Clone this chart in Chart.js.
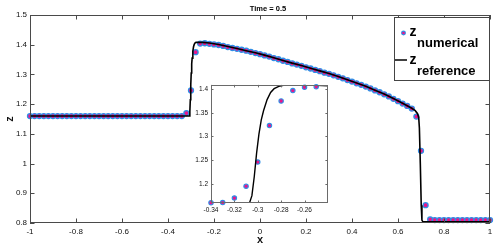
<!DOCTYPE html>
<html>
<head>
<meta charset="utf-8">
<script src="https://cdn.jsdelivr.net/npm/chart.js@4.4.1/dist/chart.umd.min.js"></script>
<style>
    html, body { margin: 0; padding: 0; background: #fff; }
    #wrap { position: relative; width: 498px; height: 248px; }
    #mainBox { position: absolute; left: 0; top: 0; width: 498px; height: 248px; }
    #insetBox { position: absolute; left: 185px; top: 78px; width: 148px; height: 139px; }
</style>
</head>
<body>
<div id="wrap">
    <div id="mainBox"><canvas id="mainChart"></canvas></div>
    <div id="insetBox"><canvas id="insetChart"></canvas></div>
</div>
<script>
// ===== DATI =====

const mainX = [-1, -0.98, -0.96, -0.94, -0.92, -0.9, -0.88, -0.86, -0.84, -0.82,
    -0.8, -0.78, -0.76, -0.74, -0.72, -0.7, -0.68, -0.66, -0.64, -0.62,
    -0.6, -0.58, -0.56, -0.54, -0.52, -0.5, -0.48, -0.46, -0.44, -0.42,
    -0.4, -0.38, -0.36, -0.34, -0.32, -0.3, -0.28, -0.26, -0.24, -0.22,
    -0.2, -0.18, -0.16, -0.14, -0.12, -0.1, -0.08, -0.06, -0.04, -0.02,
    0, 0.02, 0.04, 0.06, 0.08, 0.1, 0.12, 0.14, 0.16, 0.18,
    0.2, 0.22, 0.24, 0.26, 0.28, 0.3, 0.32, 0.34, 0.36, 0.38,
    0.4, 0.42, 0.44, 0.46, 0.48, 0.5, 0.52, 0.54, 0.56, 0.58,
    0.6, 0.62, 0.64, 0.66, 0.68, 0.7, 0.72, 0.74, 0.76, 0.78,
    0.8, 0.82, 0.84, 0.86, 0.88, 0.9, 0.92, 0.94, 0.96, 0.98, 1];

const mainZ = [1.16, 1.16, 1.16, 1.16, 1.16, 1.16, 1.16, 1.16, 1.16, 1.16,
    1.16, 1.16, 1.16, 1.16, 1.16, 1.16, 1.16, 1.16, 1.16, 1.16,
    1.16, 1.16, 1.16, 1.16, 1.16, 1.16, 1.16, 1.16, 1.16, 1.16,
    1.16, 1.16, 1.16, 1.16, 1.17, 1.246, 1.375, 1.404, 1.405, 1.403,
    1.401, 1.399, 1.396, 1.392, 1.389, 1.386, 1.383, 1.38, 1.376, 1.372,
    1.368, 1.364, 1.36, 1.355, 1.351, 1.346, 1.342, 1.337, 1.333, 1.329,
    1.324, 1.32, 1.315, 1.311, 1.306, 1.302, 1.297, 1.292, 1.287, 1.281,
    1.276, 1.27, 1.265, 1.259, 1.253, 1.246, 1.24, 1.233, 1.226, 1.218,
    1.21, 1.202, 1.194, 1.185, 1.158, 1.043, 0.86, 0.812, 0.81, 0.81,
    0.81, 0.81, 0.81, 0.81, 0.81, 0.81, 0.81, 0.81, 0.81, 0.81, 0.81];

// Soluzione di riferimento (linea nera)
const refX = [-1, -0.307, -0.305, -0.303, -0.301, -0.299, -0.297, -0.295, -0.292, -0.289,
    -0.286, -0.282, -0.278, -0.25, -0.22, -0.18, -0.14, -0.1, -0.06, -0.02,
    0.02, 0.06, 0.1, 0.14, 0.18, 0.22, 0.26, 0.3, 0.34, 0.38,
    0.42, 0.46, 0.5, 0.54, 0.58, 0.62, 0.66, 0.675, 0.685, 0.69,
    0.693, 0.697, 0.701, 0.704, 0.708, 1];
const refZ = [1.16, 1.16, 1.175, 1.215, 1.265, 1.305, 1.335, 1.355, 1.378, 1.393,
    1.401, 1.406, 1.408, 1.408, 1.406, 1.401, 1.394, 1.387, 1.38, 1.373,
    1.365, 1.356, 1.347, 1.338, 1.33, 1.321, 1.312, 1.303, 1.293, 1.282,
    1.271, 1.26, 1.247, 1.234, 1.219, 1.203, 1.186, 1.178, 1.168, 1.155,
    1.12, 1.0, 0.86, 0.81, 0.804, 0.804];

// Zoom (riquadro interno)
const insetX = [-0.34, -0.33, -0.32, -0.31, -0.3, -0.29, -0.28, -0.27, -0.26, -0.25];
const insetZ = [1.16, 1.1605, 1.17, 1.195, 1.246, 1.323, 1.375, 1.397, 1.404, 1.405];

const mainXTicks = [-1, -0.8, -0.6, -0.4, -0.2, 0, 0.2, 0.4, 0.6, 0.8, 1];
const mainYTicks = [0.8, 0.9, 1, 1.1, 1.2, 1.3, 1.4, 1.5];
const insetXTicks = [-0.34, -0.32, -0.3, -0.28, -0.26];
const insetYTicks = [1.2, 1.25, 1.3, 1.35, 1.4];

const titleText = 'Time = 0.5';
const legendNames = ['numerical', 'reference'];

// ===== STILE =====

const FONT = '"Liberation Sans", Arial, Helvetica, sans-serif';
const AXIS_COLOR = '#4a4a4a';
const EDGE_BLUE = '#2f8fe6';
const FACE_MAGENTA = '#e8168a';

Chart.defaults.font.family = FONT;
Chart.defaults.color = '#111';
Chart.defaults.animation = false;

const toPts = (xs, ys) => xs.map((x, i) => ({ x: x, y: ys[i] }));
const fmt = v => String(+Number(v).toFixed(3));

// Box con tacche verso l'interno (stile MATLAB)
const boxTicks = {
    id: 'boxTicks',
    beforeDatasetsDraw(chart, args, opts) {
        if (!opts.fill) return;
        const a = chart.chartArea;
        chart.ctx.save();
        chart.ctx.fillStyle = opts.fill;
        chart.ctx.fillRect(a.left, a.top, a.width, a.height);
        chart.ctx.restore();
    },
    afterDatasetsDraw(chart, args, opts) {
        const { ctx, chartArea: a, scales: { x, y } } = chart;
        const len = opts.len || 4;
        ctx.save();
        ctx.strokeStyle = opts.color || AXIS_COLOR;
        ctx.lineWidth = 1;
        ctx.strokeRect(Math.round(a.left) + 0.5, Math.round(a.top) + 0.5,
            Math.round(a.width) - 1, Math.round(a.height) - 1);
        ctx.beginPath();
        x.ticks.forEach(t => {
            const px = Math.round(x.getPixelForValue(t.value)) + 0.5;
            ctx.moveTo(px, a.bottom);
            ctx.lineTo(px, a.bottom - len);
            ctx.moveTo(px, a.top);
            ctx.lineTo(px, a.top + len);
        });
        y.ticks.forEach(t => {
            const py = Math.round(y.getPixelForValue(t.value)) + 0.5;
            ctx.moveTo(a.left, py);
            ctx.lineTo(a.left + len, py);
            ctx.moveTo(a.right, py);
            ctx.lineTo(a.right - len, py);
        });
        ctx.stroke();
        ctx.restore();
    }
};

// Titolo e legenda
const decorations = {
    id: 'decorations',
    afterDraw(chart) {
        const { ctx } = chart;
        ctx.save();

        // Titolo
        ctx.fillStyle = '#000';
        ctx.font = 'bold 7.5px ' + FONT;
        ctx.textAlign = 'center';
        ctx.textBaseline = 'alphabetic';
        ctx.fillText(titleText, 268, 11);

        // Legenda
        const bx = 394.5, by = 17.5, bw = 95, bh = 63;
        ctx.fillStyle = '#fff';
        ctx.fillRect(bx, by, bw, bh);
        ctx.strokeStyle = '#444';
        ctx.lineWidth = 1;
        ctx.strokeRect(bx, by, bw, bh);

        // marker punto
        ctx.beginPath();
        ctx.arc(403.5, 33, 1.9, 0, Math.PI * 2);
        ctx.fillStyle = FACE_MAGENTA;
        ctx.fill();
        ctx.strokeStyle = EDGE_BLUE;
        ctx.lineWidth = 1.1;
        ctx.stroke();

        // marker linea
        ctx.beginPath();
        ctx.moveTo(395, 60);
        ctx.lineTo(407, 60);
        ctx.strokeStyle = '#000';
        ctx.lineWidth = 1.5;
        ctx.stroke();

        ctx.fillStyle = '#000';
        ctx.textAlign = 'left';
        ctx.font = 'bold 14px ' + FONT;
        ctx.fillText('z', 409.5, 36);
        ctx.fillText('z', 409.5, 64);
        ctx.font = 'bold 13px ' + FONT;
        ctx.fillText(legendNames[0], 417, 46.5);
        ctx.fillText(legendNames[1], 417, 75);

        ctx.restore();
    }
};

// ===== GRAFICO PRINCIPALE =====

new Chart(document.getElementById('mainChart'), {
    type: 'scatter',
    data: {
        datasets: [
            {
                label: 'z reference',
                type: 'line',
                data: toPts(refX, refZ),
                borderColor: '#000',
                borderWidth: 1.6,
                pointRadius: 0,
                tension: 0,
                order: 0
            },
            {
                label: 'z numerical',
                data: toPts(mainX, mainZ),
                backgroundColor: FACE_MAGENTA,
                borderColor: EDGE_BLUE,
                borderWidth: 1.3,
                pointRadius: 2.5,
                clip: false,
                order: 1
            }
        ]
    },
    options: {
        responsive: true,
        maintainAspectRatio: false,
        layout: { padding: { left: 0, right: 8, top: 15, bottom: 0 } },
        plugins: {
            legend: { display: false },
            tooltip: { enabled: false },
            boxTicks: { len: 4.5, color: AXIS_COLOR }
        },
        scales: {
            x: {
                type: 'linear',
                min: -1,
                max: 1,
                grid: { display: false, drawTicks: false },
                border: { display: false },
                afterBuildTicks: s => { s.ticks = mainXTicks.map(v => ({ value: v })); },
                afterFit: s => { s.height = 25; },
                ticks: {
                    padding: 4,
                    maxRotation: 0,
                    font: { size: 8 },
                    callback: v => fmt(v)
                },
                title: {
                    display: true,
                    text: 'x',
                    font: { size: 11, weight: 'bold' },
                    padding: { top: 0, bottom: 1 }
                }
            },
            y: {
                type: 'linear',
                min: 0.8,
                max: 1.5,
                grid: { display: false, drawTicks: false },
                border: { display: false },
                afterBuildTicks: s => { s.ticks = mainYTicks.map(v => ({ value: v })); },
                afterFit: s => { s.width = 30; },
                ticks: {
                    padding: 3,
                    font: { size: 8 },
                    callback: v => fmt(v)
                },
                title: {
                    display: true,
                    text: 'z',
                    font: { size: 11, weight: 'bold' },
                    padding: { top: 3, bottom: 0 }
                }
            }
        }
    },
    plugins: [boxTicks, decorations]
});

// ===== RIQUADRO ZOOM =====

new Chart(document.getElementById('insetChart'), {
    type: 'scatter',
    data: {
        datasets: [
            {
                label: 'z reference',
                type: 'line',
                data: toPts(refX, refZ),
                borderColor: '#000',
                borderWidth: 1.4,
                pointRadius: 0,
                tension: 0,
                order: 0
            },
            {
                label: 'z numerical',
                data: toPts(insetX, insetZ),
                backgroundColor: FACE_MAGENTA,
                borderColor: EDGE_BLUE,
                borderWidth: 1.1,
                pointRadius: 2.2,
                clip: false,
                order: 1
            }
        ]
    },
    options: {
        responsive: true,
        maintainAspectRatio: false,
        layout: { padding: { left: 0, right: 0, top: 4, bottom: 0 } },
        plugins: {
            legend: { display: false },
            tooltip: { enabled: false },
            boxTicks: { len: 2.5, color: '#6a6a6a', fill: '#fff' }
        },
        scales: {
            x: {
                type: 'linear',
                min: -0.34,
                max: -0.24,
                grid: { display: false, drawTicks: false },
                border: { display: false },
                afterBuildTicks: s => { s.ticks = insetXTicks.map(v => ({ value: v })); },
                afterFit: s => { s.height = 14; },
                ticks: {
                    padding: 3,
                    maxRotation: 0,
                    font: { size: 6.5 },
                    callback: v => fmt(v)
                }
            },
            y: {
                type: 'linear',
                min: 1.1595,
                max: 1.409,
                grid: { display: false, drawTicks: false },
                border: { display: false },
                afterBuildTicks: s => { s.ticks = insetYTicks.map(v => ({ value: v })); },
                afterFit: s => { s.width = 26; },
                ticks: {
                    padding: 3,
                    font: { size: 6.5 },
                    callback: v => fmt(v)
                }
            }
        }
    },
    plugins: [boxTicks]
});
</script>
</body>
</html>
